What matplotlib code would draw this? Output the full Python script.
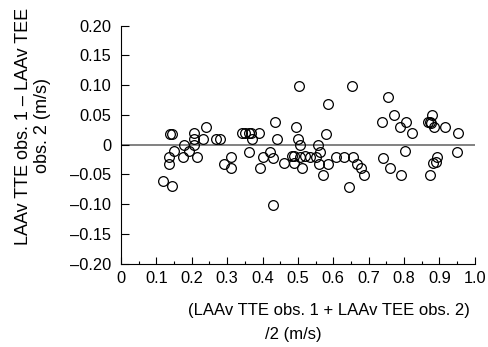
import numpy as np
import matplotlib
matplotlib.use("Agg")
from matplotlib import pyplot as plt

plt.rcParams['font.family'] = ['Liberation Sans', 'DejaVu Sans']

# mean of the two measurements (m/s)
mean_v = [0.118, 0.145, 0.136, 0.136, 0.151, 0.139, 0.144, 0.175, 0.178, 0.193,
          0.205, 0.207, 0.207, 0.214, 0.233, 0.240, 0.269, 0.280, 0.290, 0.312,
          0.312, 0.342, 0.351, 0.361, 0.367, 0.371, 0.363, 0.391, 0.394, 0.400,
          0.422, 0.429, 0.431, 0.436, 0.441, 0.460, 0.484, 0.490, 0.488, 0.496,
          0.500, 0.502, 0.505, 0.507, 0.512, 0.521, 0.535, 0.550, 0.557, 0.559,
          0.562, 0.571, 0.579, 0.585, 0.585, 0.609, 0.630, 0.644, 0.653, 0.655,
          0.667, 0.677, 0.686, 0.738, 0.740, 0.755, 0.760, 0.773, 0.788, 0.790,
          0.802, 0.805, 0.822, 0.868, 0.873, 0.877, 0.873, 0.880, 0.883, 0.885,
          0.890, 0.892, 0.916, 0.949, 0.953]
# difference between the two measurements (m/s)
diff_v = [-0.062, -0.070, -0.021, -0.032, -0.011, 0.018, 0.018, -0.021, 0.000, -0.011,
          0.019, 0.010, 0.000, -0.021, 0.010, 0.029, 0.010, 0.010, -0.032, -0.021,
          -0.039, 0.019, 0.019, 0.019, 0.019, 0.009, -0.012, 0.019, -0.040, -0.021,
          -0.012, -0.022, -0.102, 0.037, 0.009, -0.031, -0.019, -0.019, -0.031, 0.030,
          0.010, 0.099, 0.000, -0.021, -0.040, -0.020, -0.021, -0.021, 0.000, -0.032,
          -0.012, -0.051, 0.018, 0.068, -0.032, -0.021, -0.021, -0.071, 0.099, -0.021,
          -0.032, -0.040, -0.051, 0.037, -0.022, 0.080, -0.040, 0.050, 0.029, -0.051,
          -0.011, 0.037, 0.019, 0.037, 0.037, 0.036, -0.051, 0.050, -0.031, 0.029,
          -0.029, -0.021, 0.030, -0.012, 0.019]

xticks = np.round(np.arange(0, 1.01, 0.1), 1)
xlabels = ['0'] + ['%.1f' % t for t in xticks[1:]]
yticks = np.round(np.arange(-0.20, 0.201, 0.05), 2)
ylabels = [('%.2f' % t).replace('-', '\u2013') if t != 0 else '0' for t in yticks]

fig = plt.figure(figsize=(4.89, 3.47), dpi=100)
ax = fig.add_axes([0.2474, 0.2406, 0.7236, 0.6859])

ax.axhline(0, color='#777777', lw=1.3, zorder=1)
ax.plot(mean_v, diff_v, 'o', mfc='none', mec='black', ms=7, mew=0.9, zorder=2)

ax.set_xlim(0, 1.0)
ax.set_ylim(-0.20, 0.20)
ax.set_xticks(xticks)
ax.set_xticklabels(xlabels)
ax.set_xticks(np.arange(0.05, 1.0, 0.1), minor=True)
ax.set_yticks(yticks)
ax.set_yticklabels(ylabels)

for s in ['top', 'right']:
    ax.spines[s].set_visible(False)
for s in ['left', 'bottom']:
    ax.spines[s].set_linewidth(0.8)
ax.tick_params(axis='both', which='both', direction='in', labelsize=11.8, width=0.8)
ax.tick_params(axis='x', which='major', length=5, pad=5.5)
ax.tick_params(axis='x', which='minor', length=2.5)
ax.tick_params(axis='y', which='major', length=6, pad=7)

fig.text(33/489, 1-126/347, 'LAAv TTE obs. 1 \u2013 LAAv TEE\nobs. 2 (m/s)',
         rotation=90, ha='center', va='center', fontsize=13, multialignment='center')
fig.text(329/489, 1-311/347, '(LAAv TTE obs. 1 + LAAv TEE obs. 2)',
         ha='center', va='center', fontsize=12)
fig.text(293/489, 1-335/347, '/2 (m/s)', ha='center', va='center', fontsize=12)

fig.savefig('out.png', dpi=100)
